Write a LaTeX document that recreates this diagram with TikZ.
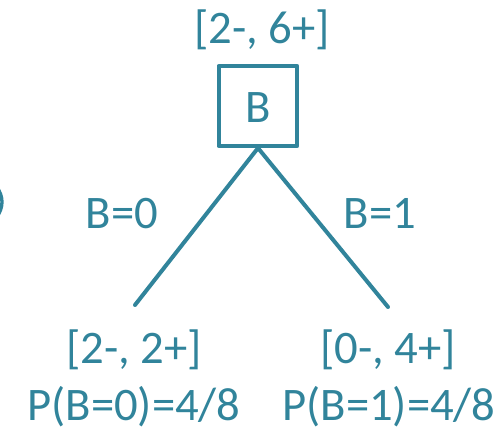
\documentclass[tikz,border=0pt]{standalone}
\usepackage{fontspec}
\setmainfont{Carlito}
\usepackage{tikz}
\usetikzlibrary{positioning}
\usepackage{xcolor}
\definecolor{tealc}{HTML}{31849B}

\begin{document}
\begin{tikzpicture}[x=0.75pt, y=-0.75pt, line cap=round, line join=round,
    lbl/.style={text=tealc, font=\fontsize{35}{40}\selectfont, inner sep=0pt, anchor=base},
    varbox/.style={draw=tealc, line width=3pt, minimum width=59pt, minimum height=60pt, inner sep=0pt}]
			
			% Frame of the picture
			\useasboundingbox (0,0) rectangle (500,433);
			
			% Cut-off bracket at the left edge
			\draw[tealc, line width=2.5pt] (-4,186) .. controls (4,196) and (4,208) .. (-4,218);
			
			% Root test on B
			\node[varbox] (root) at (258,106) {};
			\node[lbl] (rootB) at (258,122) {B};
			\node[lbl] (rootcnt) at (262,43) {[2-, 6+]};
			
			% Leaves
			\coordinate (leftend) at (135,305);
			\coordinate (rightend) at (388,307);
			\draw[tealc, line width=3pt] (root.south) -- (leftend);
			\draw[tealc, line width=3pt] (root.south) -- (rightend);
			
			% Branch labels
			\node[lbl] (edge0) at (122,228) {B=0};
			\node[lbl] (edge1) at (380,228) {B=1};
			
			% Counts and probabilities under each branch
			\node[lbl] (cnt0) at (134,363) {[2-, 2+]};
			\node[lbl] (cnt1) at (388,363) {[0-, 4+]};
			\node[lbl] (prob0) at (134,420) {P(B=0)=4/8};
			\node[lbl] (prob1) at (389,420) {P(B=1)=4/8};
			
		\end{tikzpicture}
\end{document}
